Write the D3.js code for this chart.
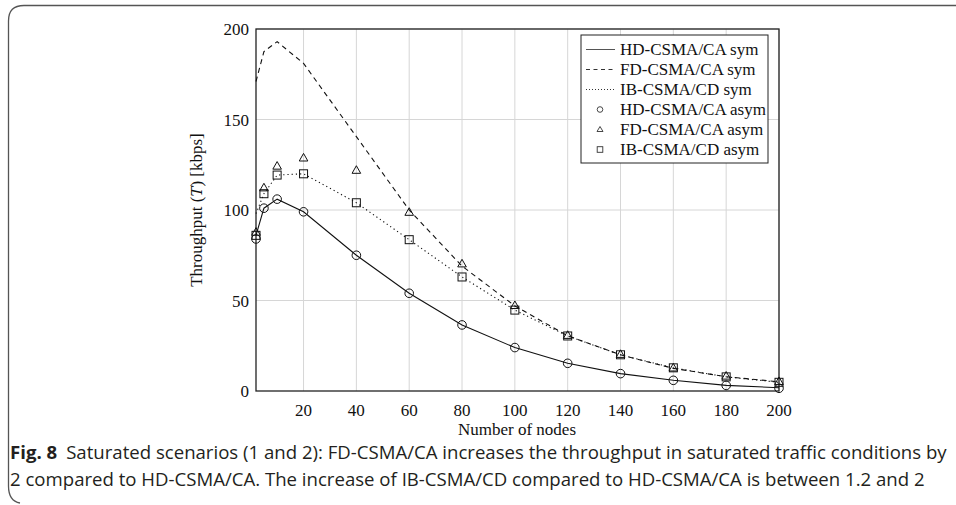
<!DOCTYPE html>
<html>
<head>
<meta charset="utf-8">
<script src="https://cdn.jsdelivr.net/npm/d3@7"></script>
<style>
  body { margin: 0; background: #fff; }
  svg { display: block; }
  .tick-label { font-family: "Liberation Serif", serif; font-size: 17px; fill: #111; }
  .caption { font-family: "Open Sans", sans-serif; font-size: 18.6px; fill: #231f20; }
</style>
</head>
<body>
<script>
'use strict';

// x positions (number of nodes)
const nodes = [2, 5, 10, 20, 40, 60, 80, 100, 120, 140, 160, 180, 200];

// analytical (sym) curves
const hdSym = [86, 101, 106, 99, 75, 54, 36.5, 24, 15.3, 9.6, 5.9, 3.1, 1.8];
const fdSym = [171, 187.5, 193, 181, 140.5, 100, 69, 47, 30.5, 20, 12.5, 7.9, 5.1];
const ibSym = [98, 109, 119.3, 120, 104, 83.6, 63, 44.7, 30.4, 20, 12.8, 7.8, 4.8];

// simulated (asym) markers
const hdAsym = [84, 101, 106, 99, 75, 54, 36.5, 24, 15.3, 9.6, 5.9, 3.1, 1.5];
const fdAsym = [87.5, 112, 124, 128.5, 121.7, 98.5, 70, 47, 30.5, 20, 12.5, 8, 5];
const ibAsym = [86, 109, 119.3, 120, 104, 83.6, 63, 44.7, 30.4, 20, 12.8, 7.8, 4.8];

const xTicks = [20, 40, 60, 80, 100, 120, 140, 160, 180, 200];
const yTicks = [0, 50, 100, 150, 200];

const legendLabels = ["HD-CSMA/CA sym", "FD-CSMA/CA sym", "IB-CSMA/CD sym",
                      "HD-CSMA/CA asym", "FD-CSMA/CA asym", "IB-CSMA/CD asym"];

const svg = d3.select("body").append("svg")
    .attr("width", 956)
    .attr("height", 505);

// figure frame (rounded corner on the left)
svg.append("path")
    .attr("d", "M956,5.5 L24,5.5 Q8.5,5.5 8.5,21 L8.5,486 Q8.5,501 20,503")
    .attr("fill", "none")
    .attr("stroke", "#555")
    .attr("stroke-width", 1.3);

const x = d3.scaleLinear().domain([2, 200]).range([256, 779]);
const y = d3.scaleLinear().domain([0, 200]).range([391, 29]);

// grid
svg.append("g").selectAll("line")
    .data(xTicks)
    .enter().append("line")
    .attr("x1", d => x(d)).attr("x2", d => x(d))
    .attr("y1", y(0)).attr("y2", y(200))
    .attr("stroke", "#d6d6d6").attr("stroke-width", 1);

svg.append("g").selectAll("line")
    .data(yTicks.slice(1))
    .enter().append("line")
    .attr("x1", x(2)).attr("x2", x(200))
    .attr("y1", d => y(d)).attr("y2", d => y(d))
    .attr("stroke", "#d6d6d6").attr("stroke-width", 1);

// axes box
svg.append("rect")
    .attr("x", x(2)).attr("y", y(200))
    .attr("width", x(200) - x(2)).attr("height", y(0) - y(200))
    .attr("fill", "none").attr("stroke", "#222").attr("stroke-width", 1.3);

// tick labels
svg.append("g").selectAll("text")
    .data(xTicks)
    .enter().append("text")
    .attr("class", "tick-label")
    .attr("x", d => x(d)).attr("y", 415.5)
    .attr("text-anchor", "middle")
    .text(d => d);

svg.append("g").selectAll("text")
    .data(yTicks)
    .enter().append("text")
    .attr("class", "tick-label")
    .attr("x", 249).attr("y", d => y(d) + 6)
    .attr("text-anchor", "end")
    .text(d => d);

svg.append("text")
    .attr("class", "tick-label")
    .attr("x", 517).attr("y", 434.5)
    .attr("text-anchor", "middle")
    .text("Number of nodes");

const yl = svg.append("text")
    .attr("class", "tick-label")
    .attr("transform", "translate(202," + ((y(0) + y(200)) / 2) + ") rotate(-90)")
    .attr("text-anchor", "middle");
yl.append("tspan").text("Throughput (");
yl.append("tspan").attr("font-style", "italic").attr("font-family", "DejaVu Serif").attr("font-size", 15).text("T");
yl.append("tspan").text(") [kbps]");

// lines
const line = d3.line().x(d => x(d[0])).y(d => y(d[1]));
function drawLine(vals, dash, w) {
    svg.append("path")
        .datum(nodes.map((n, i) => [n, vals[i]]))
        .attr("d", line)
        .attr("fill", "none")
        .attr("stroke", "#111")
        .attr("stroke-width", w)
        .attr("stroke-dasharray", dash);
}
drawLine(hdSym, null, 1.1);
drawLine(fdSym, "5,4", 1.1);
drawLine(ibSym, "1.2,3", 1.1);

// markers
function circles(vals) {
    svg.append("g").selectAll("circle")
        .data(nodes.map((n, i) => [n, vals[i]]))
        .enter().append("circle")
        .attr("cx", d => x(d[0])).attr("cy", d => y(d[1]))
        .attr("r", 4.3)
        .attr("fill", "none").attr("stroke", "#111").attr("stroke-width", 1);
}
function triangles(vals) {
    svg.append("g").selectAll("path")
        .data(nodes.map((n, i) => [n, vals[i]]))
        .enter().append("path")
        .attr("d", d => {
            const cx = x(d[0]), cy = y(d[1]);
            return "M" + cx + "," + (cy - 5) + "L" + (cx + 4.3) + "," + (cy + 2.6) + "L" + (cx - 4.3) + "," + (cy + 2.6) + "Z";
        })
        .attr("fill", "none").attr("stroke", "#111").attr("stroke-width", 1);
}
function squares(vals) {
    svg.append("g").selectAll("rect")
        .data(nodes.map((n, i) => [n, vals[i]]))
        .enter().append("rect")
        .attr("x", d => x(d[0]) - 4).attr("y", d => y(d[1]) - 4)
        .attr("width", 8).attr("height", 8)
        .attr("fill", "none").attr("stroke", "#111").attr("stroke-width", 1);
}
circles(hdAsym);
triangles(fdAsym);
squares(ibAsym);

// legend
const lg = svg.append("g");
lg.append("rect")
    .attr("x", 581).attr("y", 35)
    .attr("width", 187).attr("height", 128)
    .attr("fill", "#fff").attr("stroke", "#222").attr("stroke-width", 1);

legendLabels.forEach((lab, i) => {
    const ly = 49.5 + i * 20;
    if (i === 0) lg.append("line").attr("x1", 586).attr("x2", 615).attr("y1", ly).attr("y2", ly)
        .attr("stroke", "#555").attr("stroke-width", 1);
    if (i === 1) lg.append("line").attr("x1", 586).attr("x2", 615).attr("y1", ly).attr("y2", ly)
        .attr("stroke", "#333").attr("stroke-width", 1).attr("stroke-dasharray", "4,3.5");
    if (i === 2) lg.append("line").attr("x1", 586).attr("x2", 615).attr("y1", ly).attr("y2", ly)
        .attr("stroke", "#333").attr("stroke-width", 1).attr("stroke-dasharray", "1,2");
    if (i === 3) lg.append("circle").attr("cx", 600).attr("cy", ly).attr("r", 2.8)
        .attr("fill", "none").attr("stroke", "#333").attr("stroke-width", 0.9);
    if (i === 4) lg.append("path").attr("d", "M600," + (ly - 3) + "L603," + (ly + 2) + "L597," + (ly + 2) + "Z")
        .attr("fill", "none").attr("stroke", "#333").attr("stroke-width", 0.9);
    if (i === 5) lg.append("rect").attr("x", 597.2).attr("y", ly - 2.8).attr("width", 5.6).attr("height", 5.6)
        .attr("fill", "none").attr("stroke", "#333").attr("stroke-width", 0.9);
    lg.append("text")
        .attr("class", "tick-label")
        .attr("x", 620).attr("y", ly + 5.5)
        .text(lab);
});

// caption
const c1 = svg.append("text").attr("class", "caption").attr("x", 10).attr("y", 458.5);
c1.append("tspan").attr("font-weight", "bold").text("Fig. 8");
c1.append("tspan").attr("dx", 9).text("Saturated scenarios (1 and 2): FD-CSMA/CA increases the throughput in saturated traffic conditions by");
svg.append("text").attr("class", "caption").attr("x", 10).attr("y", 486)
    .text("2 compared to HD-CSMA/CA. The increase of IB-CSMA/CD compared to HD-CSMA/CA is between 1.2 and 2");
</script>
</body>
</html>
